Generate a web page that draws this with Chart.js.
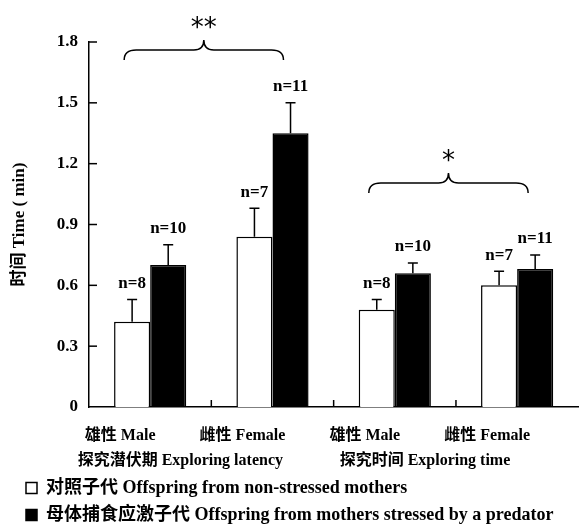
<!DOCTYPE html>
<html>
<head>
<meta charset="utf-8">
<script src="https://cdn.jsdelivr.net/npm/chart.js@4.4.1/dist/chart.umd.min.js"></script>
<style>
  html, body { margin: 0; padding: 0; background: #fff; }
</style>
</head>
<body>
<canvas id="chart" width="579" height="526"></canvas>
<script>
const categories = ['雄性 Male', '雌性 Female', '雄性 Male', '雌性 Female'];
const groupLabels = ['探究潜伏期 Exploring latency', '探究时间 Exploring time'];
const yTickLabels = ['0', '0.3', '0.6', '0.9', '1.2', '1.5', '1.8'];

const controlMeans = [0.42, 0.84, 0.48, 0.60];
const controlErr = [0.11, 0.14, 0.05, 0.07];
const controlN = [8, 7, 8, 7];

const stressedMeans = [0.70, 1.35, 0.66, 0.68];
const stressedErr = [0.10, 0.15, 0.05, 0.07];
const stressedN = [10, 11, 10, 11];

// brace between two categories, at a y value, with its star label
const braces = [
    { from: 0, to: 1, level: 1.76, mark: '**' },
    { from: 2, to: 3, level: 1.105, mark: '*' }
];

const FONT = "'Liberation Serif', 'Noto Sans CJK SC', serif";

const extras = {
    id: 'extras',
    afterDatasetsDraw(chart) {
        const { ctx, scales: { x, y } } = chart;
        ctx.save();
        ctx.strokeStyle = '#000';
        ctx.fillStyle = '#000';
        ctx.lineWidth = 1.5;

        // error bars and n labels
        chart.data.datasets.forEach((ds, di) => {
            chart.getDatasetMeta(di).data.forEach((bar, i) => {
                const top = y.getPixelForValue(ds.data[i] + ds.errors[i]);
                ctx.beginPath();
                ctx.moveTo(bar.x, bar.y);
                ctx.lineTo(bar.x, top);
                ctx.moveTo(bar.x - 5, top);
                ctx.lineTo(bar.x + 5, top);
                ctx.stroke();
                ctx.font = 'bold 17px ' + FONT;
                ctx.textAlign = 'center';
                ctx.textBaseline = 'middle';
                ctx.fillText('n=' + ds.counts[i], bar.x, top - 16);
            });
        });

        // inward tick marks
        y.ticks.forEach(t => {
            if (t.value === 0) return;
            const py = y.getPixelForValue(t.value);
            ctx.beginPath();
            ctx.moveTo(x.left, py);
            ctx.lineTo(x.left + 8, py);
            ctx.stroke();
        });
        for (let i = 1; i < categories.length; i++) {
            const px = (x.getPixelForValue(i - 1) + x.getPixelForValue(i)) / 2;
            ctx.beginPath();
            ctx.moveTo(px, y.bottom);
            ctx.lineTo(px, y.bottom - 7);
            ctx.stroke();
        }

        // braces
        braces.forEach(b => {
            const x1 = x.getPixelForValue(b.from) - 26;
            const x2 = x.getPixelForValue(b.to) + 11;
            const mid = (x1 + x2) / 2;
            const yb = y.getPixelForValue(b.level);
            ctx.beginPath();
            ctx.moveTo(x1, yb + 10);
            ctx.quadraticCurveTo(x1, yb, x1 + 12, yb);
            ctx.lineTo(mid - 10, yb);
            ctx.quadraticCurveTo(mid, yb, mid, yb - 10);
            ctx.quadraticCurveTo(mid, yb, mid + 10, yb);
            ctx.lineTo(x2 - 12, yb);
            ctx.quadraticCurveTo(x2, yb, x2, yb + 10);
            ctx.stroke();
            ctx.font = "26px 'DejaVu Sans'";
            ctx.textAlign = 'center';
            ctx.textBaseline = 'middle';
            ctx.fillText(b.mark, mid, yb - 21);
        });
        ctx.restore();
    }
};

new Chart(document.getElementById('chart'), {
    type: 'bar',
    data: {
        labels: categories,
        datasets: [
            {
                label: '对照子代 Offspring from non-stressed mothers',
                data: controlMeans,
                errors: controlErr,
                counts: controlN,
                backgroundColor: '#fff',
                borderColor: '#000',
                borderWidth: 1.5
            },
            {
                label: '母体捕食应激子代 Offspring from mothers stressed by a predator',
                data: stressedMeans,
                errors: stressedErr,
                counts: stressedN,
                backgroundColor: '#000',
                borderColor: '#000',
                borderWidth: 1.5
            }
        ]
    },
    options: {
        responsive: false,
        animation: false,
        layout: { padding: { top: 42, left: 17, right: 0, bottom: -8 } },
        datasets: { bar: { categoryPercentage: 0.59, barPercentage: 1.0 } },
        scales: {
            x: {
                grid: { display: false, drawTicks: false },
                border: { color: '#000', width: 1.5 },
                afterFit(scale) { scale.height = 38; },
                ticks: {
                    color: '#000',
                    font: { family: FONT, size: 16, weight: 'bold' },
                    padding: 19,
                    labelOffset: -30,
                    maxRotation: 0,
                    autoSkip: false
                }
            },
            x2: {
                type: 'category',
                position: 'bottom',
                weight: 1,
                offset: true,
                labels: groupLabels,
                grid: { display: false, drawTicks: false },
                border: { display: false },
                afterFit(scale) { scale.height = 25; },
                ticks: {
                    color: '#000',
                    font: { family: FONT, size: 16, weight: 'bold' },
                    padding: 6,
                    labelOffset: -31,
                    maxRotation: 0,
                    autoSkip: false
                }
            },
            y: {
                min: 0,
                max: 1.8,
                grid: { display: false, drawTicks: false },
                border: { color: '#000', width: 1.5 },
                afterFit(scale) { scale.width = 72; },
                ticks: {
                    stepSize: 0.3,
                    color: '#000',
                    padding: 11,
                    font: { family: FONT, size: 17, weight: 'bold' },
                    callback: (v, i) => yTickLabels[i]
                },
                title: {
                    display: true,
                    text: '时间 Time ( min)',
                    color: '#000',
                    padding: { top: -8, bottom: 0 },
                    font: { family: FONT, size: 17, weight: 'bold' }
                }
            }
        },
        plugins: {
            legend: {
                position: 'bottom',
                align: 'start',
                labels: {
                    color: '#000',
                    boxWidth: 11,
                    boxHeight: 11,
                    padding: 9,
                    font: { family: FONT, size: 18, weight: 'bold' }
                }
            },
            tooltip: { enabled: false }
        }
    },
    plugins: [extras]
});
</script>
</body>
</html>
